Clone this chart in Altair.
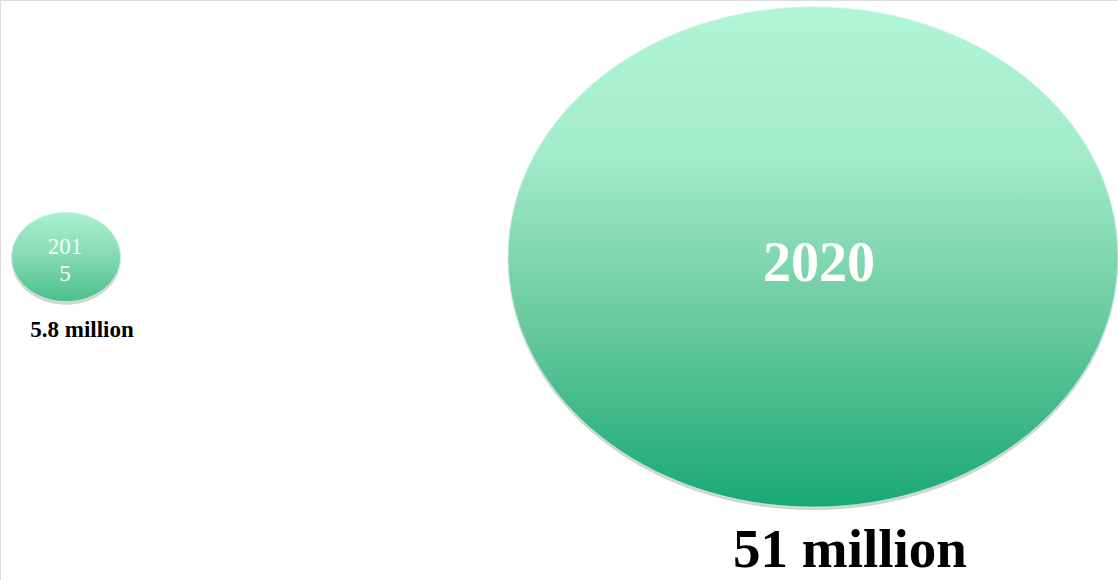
import altair as alt
import pandas as pd

years = [2015, 2020]
values = [5.8, 51]
inner_labels = ["201\n5", "2020"]
value_labels = ["5.8 million", "51 million"]

df = pd.DataFrame({"year": years, "value": values, "inner": inner_labels, "vlabel": value_labels})

W, H = 1118, 580
ELLIPSE = "M -1 0 A 1 0.82 0 1 0 1 0 A 1 0.82 0 1 0 -1 0 Z"
FONT = "Liberation Serif"

x_enc = alt.X("year:Q", scale=alt.Scale(domain=[2015, 2020], range=[66, 813]), axis=None)
size_enc = alt.Size("value:Q", scale=alt.Scale(domain=[5.8, 51], range=[109 ** 2, 610 ** 2]), legend=None)

base = alt.Chart(df)
small = base.transform_filter("datum.year == 2015")
big = base.transform_filter("datum.year == 2020")

shadow = base.mark_point(
    shape=ELLIPSE, filled=True, fill="#606060", opacity=0.28, strokeWidth=0, yOffset=2
).encode(x=x_enc, y=alt.value(258), size=size_enc)

grad_big = alt.Gradient(
    gradient="linear",
    stops=[
        alt.GradientStop(color="#b0f6d6", offset=0),
        alt.GradientStop(color="#a2ebcb", offset=0.3),
        alt.GradientStop(color="#6fcda2", offset=0.6),
        alt.GradientStop(color="#18a874", offset=1),
    ],
    x1=0, x2=0, y1=0, y2=1,
)
grad_small = alt.Gradient(
    gradient="linear",
    stops=[
        alt.GradientStop(color="#aaf0cf", offset=0),
        alt.GradientStop(color="#88dcb6", offset=0.45),
        alt.GradientStop(color="#4cbf8c", offset=1),
    ],
    x1=0, x2=0, y1=0, y2=1,
)

ell_small = small.mark_point(
    shape=ELLIPSE, filled=True, fill=grad_small, opacity=1, stroke="#c8f5e0", strokeWidth=0.8
).encode(x=x_enc, y=alt.value(257), size=size_enc)

ell_big = big.mark_point(
    shape=ELLIPSE, filled=True, fill=grad_big, opacity=1, stroke="#c8f5e0", strokeWidth=0.8
).encode(x=x_enc, y=alt.value(257), size=size_enc)

inner_small = small.mark_text(
    font=FONT, fontSize=23, color="#f4fffa", lineBreak="\n", lineHeight=27,
    align="center", baseline="alphabetic", dx=-1
).encode(x=x_enc, y=alt.value(254), text="inner:N")

inner_big = big.mark_text(
    font=FONT, fontSize=56, fontWeight="bold", color="white",
    align="center", baseline="alphabetic", dx=6
).encode(x=x_enc, y=alt.value(281), text="inner:N")

val_small = small.mark_text(
    font=FONT, fontSize=23, fontWeight="bold", color="black",
    align="center", baseline="alphabetic", dx=16
).encode(x=x_enc, y=alt.value(337), text="vlabel:N")

val_big = big.mark_text(
    font=FONT, fontSize=55, fontWeight="bold", color="black",
    align="center", baseline="alphabetic", dx=37
).encode(x=x_enc, y=alt.value(567), text="vlabel:N")

chart = alt.layer(shadow, ell_small, ell_big, inner_small, inner_big, val_small, val_big).properties(
    width=W, height=H, padding=0, autosize=alt.AutoSizeParams(type="none")
).configure_view(stroke=None).configure(background="white")

chart.save("out.html", embed_options={"renderer": "svg", "actions": False})
